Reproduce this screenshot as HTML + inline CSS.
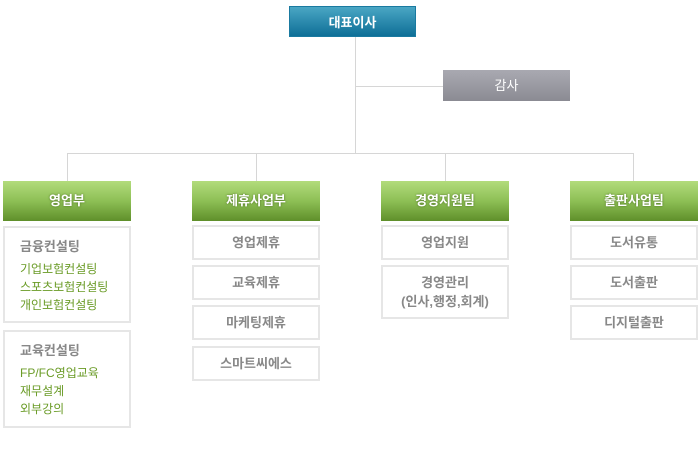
<!DOCTYPE html>
<html><head><meta charset="utf-8"><style>
body{margin:0;width:700px;height:450px;background:#fff;position:relative;font-family:"Liberation Sans","Noto Sans CJK KR",sans-serif;overflow:hidden}
div{position:absolute;box-sizing:border-box}
.l{background:#d6d6d6}
.top{left:289px;top:6px;width:127px;height:31px;background:linear-gradient(#4aa6c4,#0e6f97);color:#fff;font-size:13px;font-weight:bold;text-align:center;line-height:31px;border:1px solid #1a7aa0}
.gam{left:443px;top:70px;width:127px;height:31px;background:linear-gradient(#a9a9b1,#8b8b93);color:#fff;font-size:13px;text-align:center;line-height:31px}
.g{top:181px;width:128px;height:40px;background:linear-gradient(#b3dc7c,#8dbf55 50%,#5f8f2a);color:#fff;font-size:13px;font-weight:bold;text-align:center;line-height:40px;text-shadow:0 0 2px #4a6e20}
.b{width:128px;height:35px;border:2px solid #e6e6e6;color:#888;font-size:13px;font-weight:bold;text-align:center;line-height:31px}
.bl{left:3px;width:128px;border:2px solid #e6e6e6;padding:8px 0 0 15px}
.h{color:#888;font-size:13px;font-weight:bold;margin-bottom:5px;position:static}
.s{color:#6a9b26;font-size:12px;line-height:18px;position:static}
</style></head><body>
<div class="l" style="left:355px;top:37px;width:1px;height:116px"></div>
<div class="l" style="left:355px;top:86px;width:88px;height:1px"></div>
<div class="l" style="left:67px;top:153px;width:567px;height:1px"></div>
<div class="l" style="left:67px;top:153px;width:1px;height:28px"></div>
<div class="l" style="left:256px;top:153px;width:1px;height:28px"></div>
<div class="l" style="left:445px;top:153px;width:1px;height:28px"></div>
<div class="l" style="left:633px;top:153px;width:1px;height:28px"></div>
<div class="top">대표이사</div>
<div class="gam">감사</div>
<div class="g" style="left:3px">영업부</div>
<div class="g" style="left:192px">제휴사업부</div>
<div class="g" style="left:381px">경영지원팀</div>
<div class="g" style="left:570px">출판사업팀</div>
<div class="bl" style="top:226px;height:97px"><div class="h">금융컨설팅</div><div class="s">기업보험컨설팅<br>스포츠보험컨설팅<br>개인보험컨설팅</div></div>
<div class="bl" style="top:330px;height:98px"><div class="h">교육컨설팅</div><div class="s">FP/FC영업교육<br>재무설계<br>외부강의</div></div>
<div class="b" style="left:192px;top:225px">영업제휴</div>
<div class="b" style="left:192px;top:265px">교육제휴</div>
<div class="b" style="left:192px;top:305px">마케팅제휴</div>
<div class="b" style="left:192px;top:346px">스마트씨에스</div>
<div class="b" style="left:381px;top:225px">영업지원</div>
<div class="b" style="left:381px;top:265px;height:54px;line-height:19px;padding-top:6px">경영관리<br>(인사,행정,회계)</div>
<div class="b" style="left:570px;top:225px">도서유통</div>
<div class="b" style="left:570px;top:265px">도서출판</div>
<div class="b" style="left:570px;top:305px">디지털출판</div>
</body></html>
